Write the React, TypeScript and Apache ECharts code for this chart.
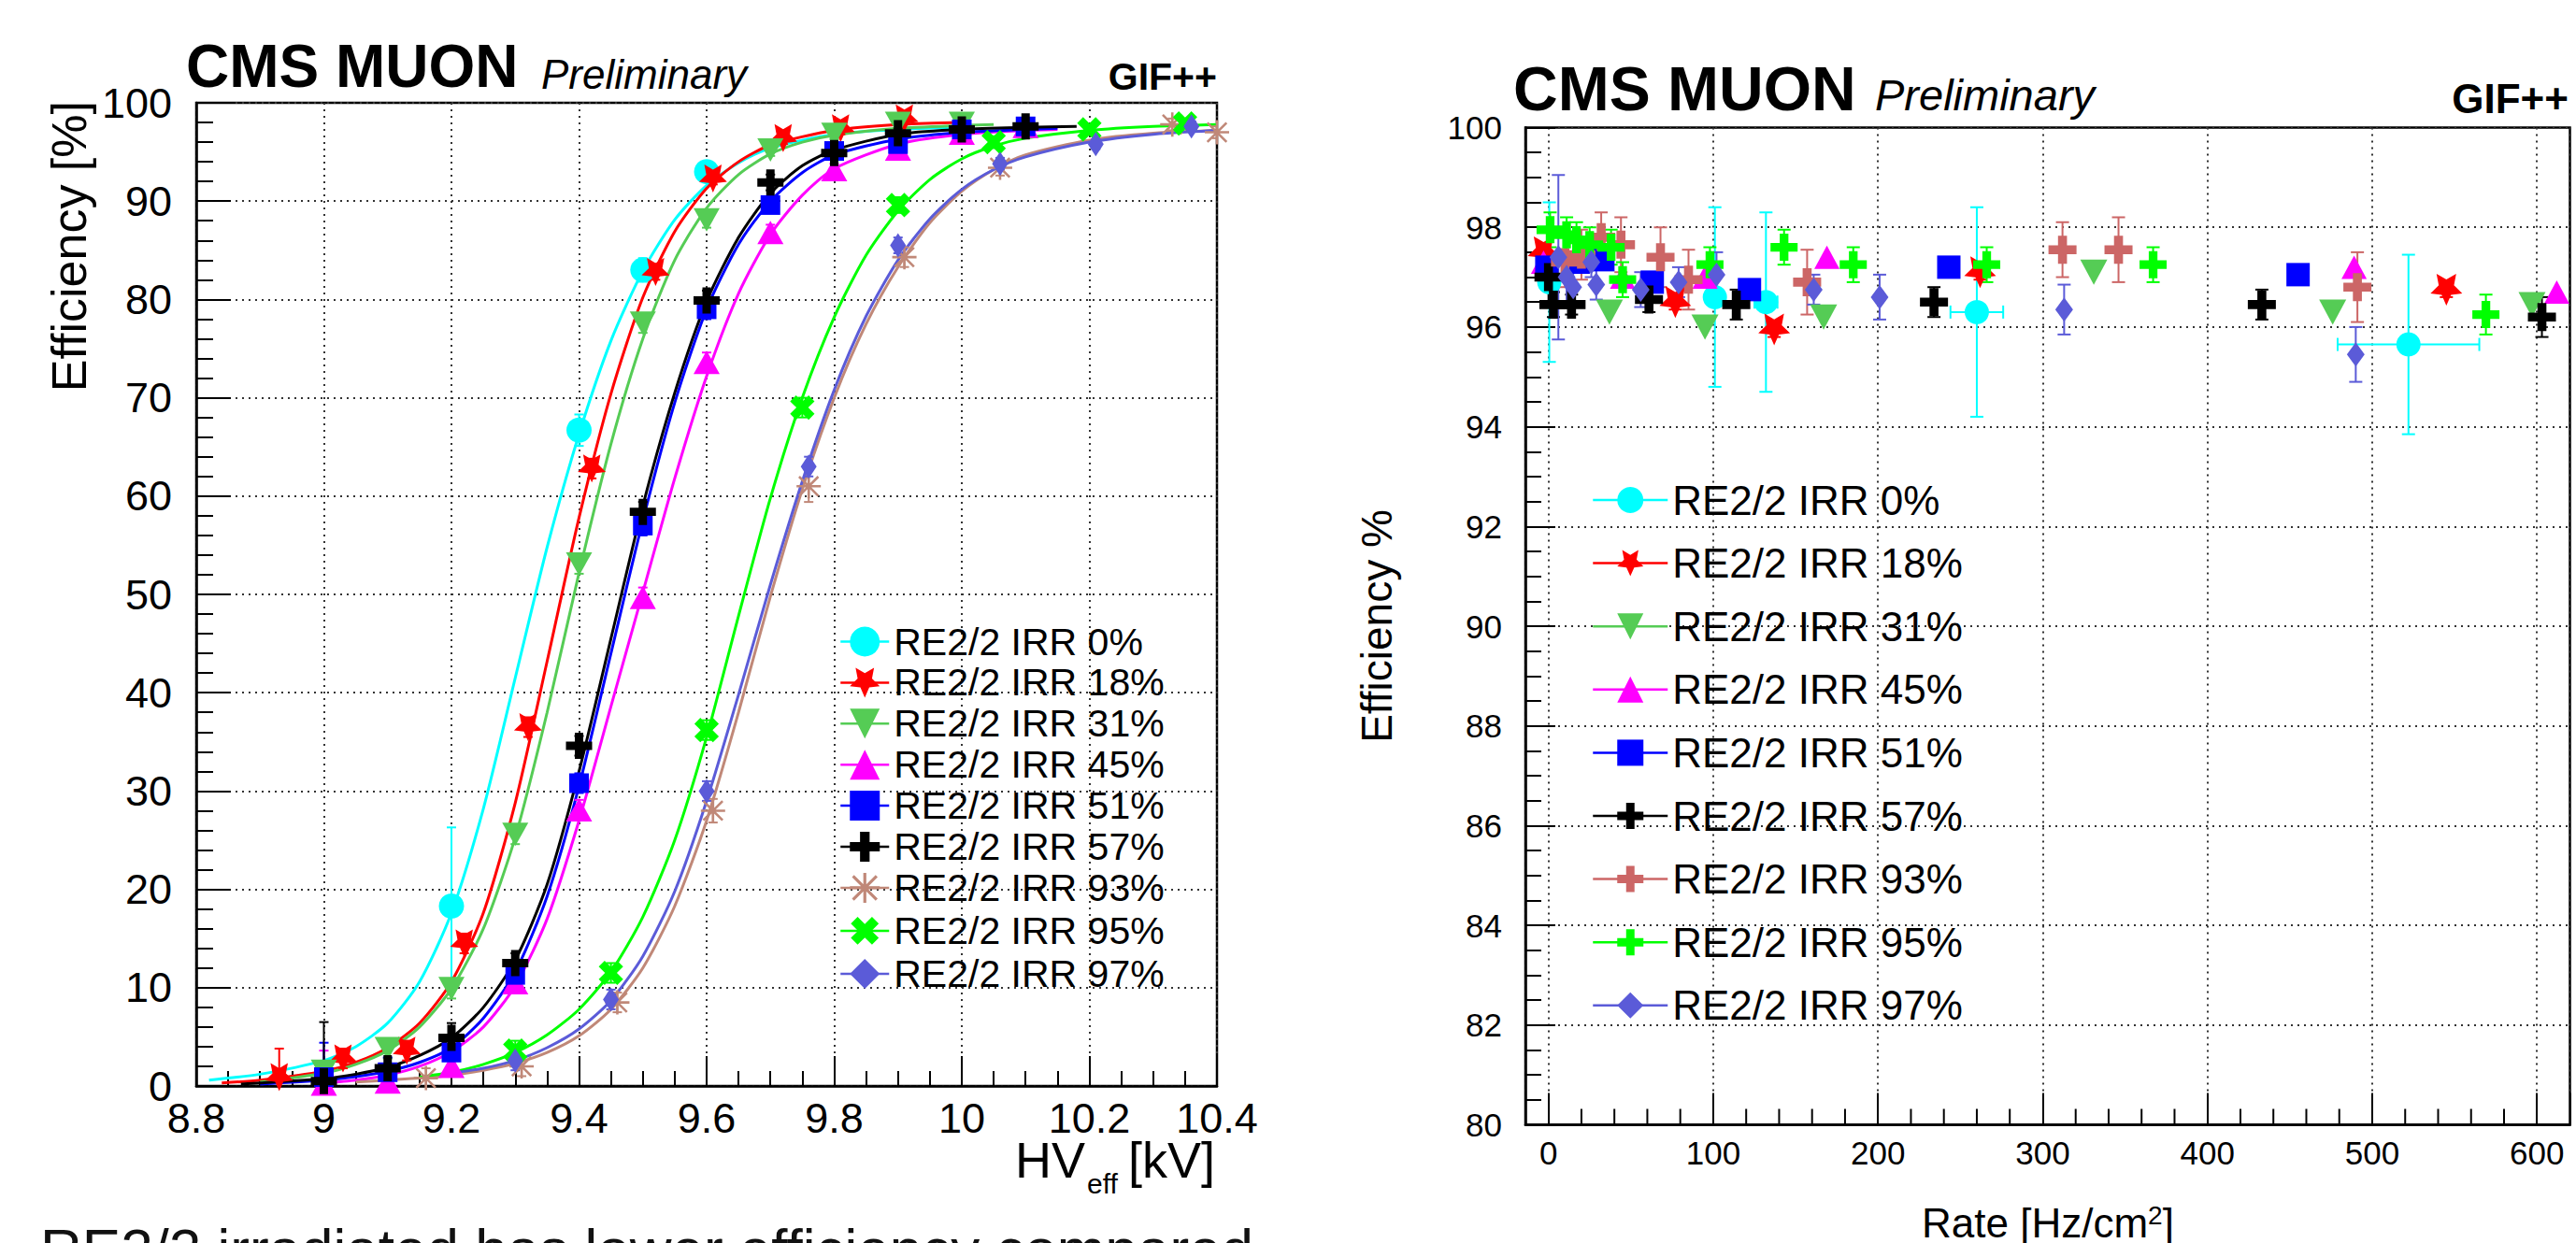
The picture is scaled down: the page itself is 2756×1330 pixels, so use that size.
import React, { useEffect, useRef } from "react";
import * as echarts from "echarts";

const FONT = '"Liberation Sans", Arial, Helvetica, sans-serif';

// ---------------- names ----------------
const irrNames = [
  "RE2/2 IRR 0%",
  "RE2/2 IRR 18%",
  "RE2/2 IRR 31%",
  "RE2/2 IRR 45%",
  "RE2/2 IRR 51%",
  "RE2/2 IRR 57%",
  "RE2/2 IRR 93%",
  "RE2/2 IRR 95%",
  "RE2/2 IRR 97%",
];

// ---------------- left panel: efficiency vs HV_eff (measured points) ----------------
const hvIrr0 = [9.2, 9.4, 9.5, 9.6];
const effIrr0 = [18.3, 66.7, 83.0, 93.0];
const errIrr0 = [8.0, 1.6, 1.2, 0.8];

const hvIrr18 = [8.93, 9.03, 9.13, 9.22, 9.32, 9.42, 9.52, 9.61, 9.72, 9.81, 9.91];
const effIrr18 = [0.9, 2.8, 3.6, 14.5, 36.5, 62.8, 82.8, 92.3, 96.4, 97.4, 98.4];
const errIrr18 = [2.9, 1.0, 1.0, 1.0, 1.0, 1.0, 0.8, 0.6, 0.6, 0.6, 0.6];

const hvIrr31 = [9.0, 9.1, 9.2, 9.3, 9.4, 9.5, 9.6, 9.7, 9.8, 9.9, 10.0];
const effIrr31 = [1.5, 3.8, 9.9, 25.6, 53.1, 77.6, 88.1, 95.2, 96.8, 97.9, 97.9];
const errIrr31 = [1.0, 1.0, 1.0, 1.0, 1.0, 1.0, 0.8, 0.6, 0.5, 0.5, 0.5];

const hvIrr45 = [9.0, 9.1, 9.2, 9.3, 9.4, 9.5, 9.6, 9.7, 9.8, 9.9, 10.0, 10.1];
const effIrr45 = [0.2, 0.4, 2.0, 10.5, 28.1, 49.7, 73.6, 86.8, 93.2, 95.3, 96.9, 97.6];
const errIrr45 = [3.4, 3.2, 1.0, 1.0, 1.0, 1.0, 1.0, 0.8, 0.6, 0.5, 0.5, 0.5];

const hvIrr51 = [9.0, 9.1, 9.2, 9.3, 9.4, 9.5, 9.6, 9.7, 9.8, 9.9, 10.0, 10.1];
const effIrr51 = [0.9, 1.4, 3.4, 11.3, 30.8, 57.0, 79.0, 89.6, 95.1, 95.8, 97.3, 97.6];
const errIrr51 = [3.5, 1.5, 1.5, 1.0, 1.0, 1.0, 1.0, 0.8, 0.6, 0.5, 0.5, 0.5];

const hvIrr57 = [9.0, 9.1, 9.2, 9.3, 9.4, 9.5, 9.6, 9.7, 9.8, 9.9, 10.0, 10.1];
const effIrr57 = [0.5, 1.8, 4.9, 12.5, 34.6, 58.4, 79.9, 91.9, 94.9, 96.9, 97.3, 97.6];
const errIrr57 = [6.0, 2.0, 1.5, 1.0, 1.0, 1.0, 1.0, 0.8, 0.6, 0.5, 0.5, 0.5];

const hvIrr93 = [9.16, 9.31, 9.46, 9.61, 9.76, 9.91, 10.06, 10.33, 10.4];
const effIrr93 = [0.8, 2.0, 8.5, 28.0, 61.0, 84.3, 93.4, 97.8, 97.0];
const errIrr93 = [1.0, 1.0, 1.0, 1.2, 1.6, 1.0, 0.8, 0.6, 0.6];

const hvIrr95 = [9.3, 9.45, 9.6, 9.75, 9.9, 10.05, 10.2, 10.35];
const effIrr95 = [3.6, 11.5, 36.2, 69.0, 89.6, 96.0, 97.3, 97.9];
const errIrr95 = [1.0, 1.0, 1.0, 1.0, 0.8, 0.6, 0.5, 0.5];

const hvIrr97 = [9.3, 9.45, 9.6, 9.76, 9.9, 10.06, 10.21, 10.36];
const effIrr97 = [2.6, 8.8, 30.0, 63.0, 85.5, 93.8, 95.8, 97.6];
const errIrr97 = [1.0, 1.0, 1.0, 1.0, 0.8, 0.6, 0.5, 0.5];

// ---------------- left panel: fitted curves ----------------
const fitHv0 = [8.82, 8.9, 9.0, 9.05, 9.1, 9.15, 9.2, 9.25, 9.3, 9.35, 9.4, 9.45, 9.5, 9.55, 9.6, 9.65, 9.7, 9.8, 9.9, 10.0];
const fitEff0 = [0.6, 1.2, 2.6, 4.0, 6.4, 10.6, 17.6, 28.2, 41.5, 54.8, 66.3, 75.8, 82.9, 88.1, 91.6, 93.9, 95.4, 96.8, 97.3, 97.5];

const fitHv18 = [8.84, 8.9, 9.0, 9.05, 9.1, 9.15, 9.2, 9.25, 9.3, 9.35, 9.4, 9.45, 9.5, 9.55, 9.6, 9.65, 9.7, 9.8, 9.9, 10.0];
const fitEff18 = [0.3, 0.6, 1.5, 2.4, 3.9, 6.4, 10.6, 17.6, 28.8, 43.2, 57.8, 70.4, 80.2, 86.9, 91.3, 94.0, 95.7, 97.2, 97.8, 98.0];

const fitHv31 = [8.9, 9.0, 9.05, 9.1, 9.15, 9.2, 9.25, 9.3, 9.35, 9.4, 9.45, 9.5, 9.55, 9.6, 9.65, 9.7, 9.75, 9.8, 9.9, 10.0, 10.05];
const fitEff31 = [0.4, 1.3, 2.2, 3.6, 6.0, 9.9, 16.0, 25.3, 38.0, 52.2, 65.3, 76.0, 84.0, 89.3, 92.7, 94.8, 96.0, 96.7, 97.4, 97.7, 97.8];

const fitHv45 = [9.0, 9.05, 9.1, 9.15, 9.2, 9.25, 9.3, 9.35, 9.4, 9.45, 9.5, 9.55, 9.6, 9.65, 9.7, 9.75, 9.8, 9.9, 10.0, 10.1, 10.15];
const fitEff45 = [0.3, 0.6, 1.1, 2.0, 3.5, 6.0, 10.2, 17.0, 27.0, 38.6, 50.2, 61.8, 72.2, 80.6, 86.6, 90.6, 93.3, 95.8, 96.8, 97.2, 97.3];

const fitHv51 = [8.9, 9.0, 9.05, 9.1, 9.15, 9.2, 9.25, 9.3, 9.35, 9.4, 9.45, 9.5, 9.55, 9.6, 9.65, 9.7, 9.75, 9.8, 9.9, 10.0, 10.1, 10.15];
const fitEff51 = [0.2, 0.6, 0.95, 1.5, 2.4, 3.9, 6.9, 11.6, 19.3, 30.5, 44.0, 57.5, 69.5, 79.0, 85.6, 90.0, 92.9, 94.7, 96.3, 97.0, 97.3, 97.4];

const fitHv57 = [8.87, 8.9, 9.0, 9.05, 9.1, 9.15, 9.2, 9.25, 9.3, 9.35, 9.4, 9.45, 9.5, 9.55, 9.6, 9.65, 9.7, 9.75, 9.8, 9.9, 10.0, 10.1, 10.18];
const fitEff57 = [0.2, 0.3, 0.75, 1.2, 1.9, 3.1, 4.9, 8.0, 12.8, 20.5, 32.0, 45.5, 59.0, 70.5, 79.8, 86.3, 90.8, 93.6, 95.2, 96.8, 97.3, 97.5, 97.6];

const fitHv93 = [9.05, 9.1, 9.15, 9.2, 9.25, 9.3, 9.35, 9.4, 9.45, 9.5, 9.55, 9.6, 9.65, 9.7, 9.75, 9.8, 9.85, 9.9, 9.95, 10.0, 10.05, 10.1, 10.2, 10.3, 10.4];
const fitEff93 = [0.4, 0.6, 0.8, 1.1, 1.6, 2.3, 3.4, 5.1, 7.8, 12.0, 18.3, 27.0, 38.0, 49.8, 60.7, 70.0, 77.5, 83.3, 87.8, 91.0, 93.2, 94.7, 96.2, 96.9, 97.2];

const fitHv95 = [9.15, 9.2, 9.25, 9.3, 9.35, 9.4, 9.45, 9.5, 9.55, 9.6, 9.65, 9.7, 9.75, 9.8, 9.85, 9.9, 9.95, 10.0, 10.05, 10.1, 10.2, 10.3, 10.4];
const fitEff95 = [0.9, 1.4, 2.2, 3.4, 5.2, 7.8, 11.6, 17.2, 25.0, 35.5, 47.8, 59.8, 70.0, 78.2, 84.5, 89.0, 92.2, 94.3, 95.6, 96.4, 97.2, 97.6, 97.8];

const fitHv97 = [9.2, 9.25, 9.3, 9.35, 9.4, 9.45, 9.5, 9.55, 9.6, 9.65, 9.7, 9.75, 9.8, 9.85, 9.9, 9.95, 10.0, 10.05, 10.1, 10.2, 10.3, 10.4];
const fitEff97 = [1.3, 1.8, 2.6, 3.9, 5.8, 8.7, 13.2, 19.8, 29.0, 39.8, 51.0, 61.5, 70.8, 78.3, 84.0, 88.2, 91.2, 93.2, 94.5, 96.0, 96.8, 97.2];

// ---------------- right panel: efficiency vs rate ----------------
const rateIrr0 = [0.5, 101, 132, 260, 522];
const rEffIrr0 = [96.9, 96.6, 96.5, 96.3, 95.65];
const rErrIrr0 = [1.6, 1.8, 1.8, 2.1, 1.8];
const rXErrIrr0 = [0, 0, 7, 16, 43];

const rateIrr18 = [-3, 77, 137, 262, 545];
const rEffIrr18 = [97.5, 96.5, 95.95, 97.1, 96.75];
const rErrIrr18 = [0.15, 0.15, 0.15, 0.15, 0.15];

const rateIrr31 = [37, 95, 167, 331, 476, 597];
const rEffIrr31 = [96.3, 96.0, 96.2, 97.1, 96.3, 96.45];
const rErrIrr31 = [0, 0, 0, 0, 0, 0];

const rateIrr45 = [-3, 45, 95, 169, 489, 612];
const rEffIrr45 = [97.3, 97.0, 97.0, 97.4, 97.2, 96.7];
const rErrIrr45 = [0, 0, 0, 0, 0, 0];

const rateIrr51 = [-1, 18, 33, 63, 122, 243, 455];
const rEffIrr51 = [97.2, 97.3, 97.35, 96.9, 96.75, 97.2, 97.05];
const rErrIrr51 = [0, 0, 0, 0, 0, 0, 0];

const rateIrr57 = [0, 3, 14, 61, 114, 234, 433, 603];
const rEffIrr57 = [97.0, 96.45, 96.45, 96.55, 96.45, 96.5, 96.45, 96.2];
const rErrIrr57 = [0.5, 0.25, 0.2, 0.25, 0.3, 0.3, 0.3, 0.4];

const rateIrr93 = [10, 20, 32, 44, 68, 85, 157, 312, 346, 491];
const rEffIrr93 = [97.3, 97.45, 97.8, 97.65, 97.4, 96.95, 96.9, 97.55, 97.55, 96.8];
const rErrIrr93 = [0.5, 0.5, 0.5, 0.55, 0.6, 0.6, 0.65, 0.55, 0.65, 0.7];

const rateIrr95 = [1, 11, 17, 25, 38, 45, 98, 143, 185, 266, 367, 569];
const rEffIrr95 = [97.95, 97.85, 97.75, 97.65, 97.6, 96.95, 97.25, 97.6, 97.25, 97.25, 97.25, 96.25];
const rErrIrr95 = [0.35, 0.35, 0.35, 0.35, 0.35, 0.35, 0.35, 0.35, 0.35, 0.35, 0.35, 0.4];

const rateIrr97 = [6, 11, 15, 26, 29, 56, 79, 102, 161, 201, 313, 490];
const rEffIrr97 = [97.4, 97.0, 96.8, 97.3, 96.85, 96.75, 96.9, 97.05, 96.75, 96.6, 96.35, 95.45];
const rErrIrr97 = [1.65, 0.5, 0.4, 0.3, 0.3, 0.35, 0.3, 0.45, 0.3, 0.45, 0.5, 0.55];

// minor tick positions of the rate axis
const rateMinorTicks = [20, 40, 60, 80, 120, 140, 160, 180, 220, 240, 260, 280, 320, 340, 360, 380, 420, 440, 460, 480, 520, 540, 560, 580];

// ---------------- styling ----------------
const leftColors = ["#00ffff", "#ff0000", "#55cc55", "#ff00ff", "#0000ff", "#000000", "#c08878", "#00ff00", "#5b5bd8"];
const rightColors = ["#00ffff", "#ff0000", "#55cc55", "#ff00ff", "#0000ff", "#000000", "#cc6666", "#00ff00", "#5b5bd8"];

const STAR = "path://M50,2L64.1,32.6L97.55,36.55L72.8,59.4L79.39,92.45L50,76L20.61,92.45L27.2,59.4L2.45,36.55L35.9,32.6Z";
const PLUS = "path://M34,0H66V34H100V66H66V100H34V66H0V34H34Z";
const ASTER = "path://M45,0H55V100H45Z M0,45H100V55H0Z M7,14L14,7L93,86L86,93Z M86,7L93,14L14,93L7,86Z";
const DIAMOND = "path://M50,0L80,50L50,100L20,50Z";

const leftSymbols: any[] = [
  { symbol: "circle", size: 27, rotate: 0 },
  { symbol: STAR, size: 30, rotate: 180 },
  { symbol: "triangle", size: [28, 25], rotate: 180 },
  { symbol: "triangle", size: [28, 25], rotate: 0 },
  { symbol: "rect", size: 21, rotate: 0 },
  { symbol: PLUS, size: 28, rotate: 0 },
  { symbol: ASTER, size: 26, rotate: 0 },
  { symbol: PLUS, size: 28, rotate: 45 },
  { symbol: DIAMOND, size: [17, 26], rotate: 0 },
];
const rightSymbols: any[] = [
  { symbol: "circle", size: 26, rotate: 0 },
  { symbol: STAR, size: 34, rotate: 180 },
  { symbol: "triangle", size: [29, 27], rotate: 180 },
  { symbol: "triangle", size: [27, 25], rotate: 0 },
  { symbol: "rect", size: 25, rotate: 0 },
  { symbol: PLUS, size: 30, rotate: 0 },
  { symbol: PLUS, size: 30, rotate: 0 },
  { symbol: PLUS, size: 29, rotate: 0 },
  { symbol: DIAMOND, size: [19, 26], rotate: 0 },
];

const leftPoints = [
  [hvIrr0, effIrr0, errIrr0],
  [hvIrr18, effIrr18, errIrr18],
  [hvIrr31, effIrr31, errIrr31],
  [hvIrr45, effIrr45, errIrr45],
  [hvIrr51, effIrr51, errIrr51],
  [hvIrr57, effIrr57, errIrr57],
  [hvIrr93, effIrr93, errIrr93],
  [hvIrr95, effIrr95, errIrr95],
  [hvIrr97, effIrr97, errIrr97],
];
const leftFits = [
  [fitHv0, fitEff0],
  [fitHv18, fitEff18],
  [fitHv31, fitEff31],
  [fitHv45, fitEff45],
  [fitHv51, fitEff51],
  [fitHv57, fitEff57],
  [fitHv93, fitEff93],
  [fitHv95, fitEff95],
  [fitHv97, fitEff97],
];
const rightPoints: any[] = [
  [rateIrr0, rEffIrr0, rErrIrr0, rXErrIrr0],
  [rateIrr18, rEffIrr18, rErrIrr18, null],
  [rateIrr31, rEffIrr31, rErrIrr31, null],
  [rateIrr45, rEffIrr45, rErrIrr45, null],
  [rateIrr51, rEffIrr51, rErrIrr51, null],
  [rateIrr57, rEffIrr57, rErrIrr57, null],
  [rateIrr93, rEffIrr93, rErrIrr93, null],
  [rateIrr95, rEffIrr95, rErrIrr95, null],
  [rateIrr97, rEffIrr97, rErrIrr97, null],
];

const RIGHT_PREFIX = "R ";
const RATE_Y_MIN = 80;

function zip(xs: number[], ys: number[]) {
  return xs.map((x, i) => [x, ys[i]]);
}

function errorBars(axis: number, xs: number[], ys: number[], eys: number[], exs: number[] | null, color: string, cap: number, width: number) {
  const data = xs.map((x, i) => [x, ys[i], eys[i], exs ? exs[i] : 0]);
  return {
    type: "custom",
    name: "err",
    xAxisIndex: axis,
    yAxisIndex: axis,
    z: 3,
    silent: true,
    clip: true,
    encode: { x: 0, y: 1 },
    data,
    renderItem: (_p: any, api: any) => {
      const x = api.value(0);
      const y = api.value(1);
      const ey = api.value(2);
      const ex = api.value(3);
      const st = { stroke: color, lineWidth: width };
      const children: any[] = [];
      if (ey > 0) {
        const lo = api.coord([x, y - ey]);
        const hi = api.coord([x, y + ey]);
        children.push({ type: "line", shape: { x1: lo[0], y1: lo[1], x2: hi[0], y2: hi[1] }, style: st });
        children.push({ type: "line", shape: { x1: lo[0] - cap / 2, y1: lo[1], x2: lo[0] + cap / 2, y2: lo[1] }, style: st });
        children.push({ type: "line", shape: { x1: hi[0] - cap / 2, y1: hi[1], x2: hi[0] + cap / 2, y2: hi[1] }, style: st });
      }
      if (ex > 0) {
        const l = api.coord([x - ex, y]);
        const r = api.coord([x + ex, y]);
        children.push({ type: "line", shape: { x1: l[0], y1: l[1], x2: r[0], y2: r[1] }, style: st });
        children.push({ type: "line", shape: { x1: l[0], y1: l[1] - cap / 2, x2: l[0], y2: l[1] + cap / 2 }, style: st });
        children.push({ type: "line", shape: { x1: r[0], y1: r[1] - cap / 2, x2: r[0], y2: r[1] + cap / 2 }, style: st });
      }
      return { type: "group", children };
    },
  };
}

function txt(text: string, x: number, y: number, size: number, o: any = {}) {
  return {
    type: "text",
    x,
    y,
    rotation: o.rotation || 0,
    z: 20,
    silent: true,
    style: {
      text,
      fill: o.color || "#000",
      fontFamily: FONT,
      fontSize: size,
      fontWeight: o.weight || "normal",
      fontStyle: o.italic ? "italic" : "normal",
      textAlign: o.align || "left",
      verticalAlign: "middle",
      textVerticalAlign: "middle",
      rich: o.rich,
    },
  };
}

const dotted = { color: "#333", width: 2, type: [2, 5] as any };

function buildOption() {
  const series: any[] = [];

  // fitted curves
  leftFits.forEach(([xs, ys], i) => {
    series.push({
      type: "line",
      name: "fit " + irrNames[i],
      xAxisIndex: 0,
      yAxisIndex: 0,
      data: zip(xs, ys),
      showSymbol: false,
      symbol: "none",
      smooth: 0.25,
      lineStyle: { color: leftColors[i], width: 3 },
      itemStyle: { color: leftColors[i] },
      z: 2,
      silent: true,
    });
  });
  // left error bars
  leftPoints.forEach(([xs, ys, es], i) => {
    series.push(errorBars(0, xs, ys, es, null, leftColors[i], 10, 2));
  });
  // left markers
  leftPoints.forEach(([xs, ys], i) => {
    const s = leftSymbols[i];
    series.push({
      type: "line",
      name: irrNames[i],
      xAxisIndex: 0,
      yAxisIndex: 0,
      data: zip(xs, ys),
      symbol: s.symbol,
      symbolSize: s.size,
      symbolRotate: s.rotate,
      showSymbol: true,
      showAllSymbol: true,
      lineStyle: { color: leftColors[i], width: 0 },
      itemStyle: { color: leftColors[i] },
      z: 4,
      silent: true,
    });
  });

  // right error bars
  rightPoints.forEach(([xs, ys, es, xes], i) => {
    series.push(errorBars(1, xs, ys, es, xes, rightColors[i], 14, 2));
  });
  // right markers
  rightPoints.forEach(([xs, ys], i) => {
    const s = rightSymbols[i];
    series.push({
      type: "line",
      name: RIGHT_PREFIX + irrNames[i],
      xAxisIndex: 1,
      yAxisIndex: 1,
      data: zip(xs, ys),
      symbol: s.symbol,
      symbolSize: s.size,
      symbolRotate: s.rotate,
      showSymbol: true,
      showAllSymbol: true,
      lineStyle: { color: rightColors[i], width: 0 },
      itemStyle: { color: rightColors[i] },
      z: 4,
      silent: true,
    });
  });
  // right minor ticks on the rate axis
  series.push({
    type: "custom",
    name: "minor ticks",
    xAxisIndex: 1,
    yAxisIndex: 1,
    silent: true,
    z: 5,
    encode: { x: 0, y: 1 },
    data: rateMinorTicks.map((v) => [v, RATE_Y_MIN]),
    renderItem: (_p: any, api: any) => {
      const c = api.coord([api.value(0), api.value(1)]);
      return { type: "line", shape: { x1: c[0], y1: c[1], x2: c[0], y2: c[1] - 17 }, style: { stroke: "#000", lineWidth: 2 } };
    },
  });

  const labelBase = { color: "#000", fontFamily: FONT };

  return {
    animation: false,
    backgroundColor: "#fff",
    textStyle: { fontFamily: FONT },
    grid: [
      { left: 210, top: 110, width: 1092, height: 1052, show: true, borderColor: "#000", borderWidth: 2.5, backgroundColor: "transparent", containLabel: false, outerBoundsMode: "none" },
      { left: 1632, top: 136.5, width: 1117.5, height: 1067, show: true, borderColor: "#000", borderWidth: 2.5, backgroundColor: "transparent", containLabel: false, outerBoundsMode: "none" },
    ],
    xAxis: [
      {
        type: "value",
        gridIndex: 0,
        min: 8.8,
        max: 10.4,
        interval: 0.2,
        axisLine: { show: true, onZero: false, lineStyle: { color: "#000", width: 2.5 } },
        axisTick: { show: true, inside: true, length: 32, lineStyle: { color: "#000", width: 2 } },
        minorTick: { show: true, splitNumber: 4, length: 16, lineStyle: { color: "#000", width: 2 } },
        splitLine: { show: true, lineStyle: dotted },
        axisLabel: {
          ...labelBase,
          fontSize: 45,
          margin: 12,
          showMinLabel: true,
          showMaxLabel: true,
          formatter: (v: number) => String(Math.round(v * 10) / 10),
        },
      },
      {
        type: "value",
        gridIndex: 1,
        min: -14,
        max: 620,
        splitNumber: 6,
        minInterval: 100,
        maxInterval: 100,
        axisLine: { show: true, onZero: false, lineStyle: { color: "#000", width: 2.5 } },
        axisTick: { show: true, inside: true, length: 34, lineStyle: { color: "#000", width: 2 } },
        minorTick: { show: false },
        splitLine: { show: true, lineStyle: dotted },
        axisLabel: {
          ...labelBase,
          fontSize: 35,
          margin: 12,
          showMinLabel: true,
          showMaxLabel: true,
          formatter: (v: number) => (Math.abs(v % 100) < 1e-6 ? String(v) : ""),
        },
      },
    ],
    yAxis: [
      {
        type: "value",
        gridIndex: 0,
        min: 0,
        max: 100,
        interval: 10,
        axisLine: { show: true, onZero: false, lineStyle: { color: "#000", width: 2.5 } },
        axisTick: { show: true, inside: true, length: 37, lineStyle: { color: "#000", width: 2 } },
        minorTick: { show: true, splitNumber: 5, length: 18, lineStyle: { color: "#000", width: 2 } },
        splitLine: { show: true, lineStyle: dotted },
        axisLabel: { ...labelBase, fontSize: 45, margin: 26, showMinLabel: true, showMaxLabel: true },
      },
      {
        type: "value",
        gridIndex: 1,
        min: 80,
        max: 100,
        interval: 2,
        axisLine: { show: true, onZero: false, lineStyle: { color: "#000", width: 2.5 } },
        axisTick: { show: true, inside: true, length: 32, lineStyle: { color: "#000", width: 2 } },
        minorTick: { show: true, splitNumber: 4, length: 17, lineStyle: { color: "#000", width: 2 } },
        splitLine: { show: true, lineStyle: dotted },
        axisLabel: { ...labelBase, fontSize: 35, margin: 25, showMinLabel: true, showMaxLabel: true },
      },
    ],
    legend: [
      {
        orient: "vertical",
        left: 898,
        top: 666,
        padding: 0,
        itemWidth: 52,
        itemHeight: 40,
        itemGap: 2.9,
        selectedMode: false,
        data: irrNames,
        lineStyle: { width: 2.5 },
        textStyle: { color: "#000", fontFamily: FONT, fontSize: 41, lineHeight: 40 },
      },
      {
        orient: "vertical",
        left: 1703,
        top: 513,
        padding: 0,
        itemWidth: 80,
        itemHeight: 35,
        itemGap: 23.6,
        selectedMode: false,
        data: irrNames.map((n) => RIGHT_PREFIX + n),
        formatter: (n: string) => n.slice(RIGHT_PREFIX.length),
        lineStyle: { width: 2.5 },
        textStyle: { color: "#000", fontFamily: FONT, fontSize: 44, lineHeight: 35 },
      },
    ],
    graphic: [
      // left panel header
      txt("CMS MUON", 199, 71, 64, { weight: "bold" }),
      txt("Preliminary", 579, 79, 44, { italic: true }),
      txt("GIF++", 1302, 82, 41, { weight: "bold", align: "right" }),
      // right panel header
      txt("CMS MUON", 1619, 95, 66, { weight: "bold" }),
      txt("Preliminary", 2006, 101, 47, { italic: true }),
      txt("GIF++", 2748, 105, 44, { weight: "bold", align: "right" }),
      // axis titles
      txt("Efficiency [%]", 74, 108, 52, { rotation: Math.PI / 2, align: "right" }),
      txt("Efficiency %", 1473, 670, 46, { rotation: Math.PI / 2, align: "center" }),
      txt("HV", 1086, 1241, 54),
      txt("eff", 1163, 1266, 30),
      txt("[kV]", 1207, 1241, 54),
      txt("Rate [Hz/cm{sup|2}]", 2191, 1308, 44, {
        align: "center",
        rich: { sup: { fontSize: 28, verticalAlign: "top", lineHeight: 22, fontFamily: FONT } },
      }),
      // caption below the left panel (cut by the picture's lower edge)
      txt("RE2/2 irradiated has lower efficiency compared", 43, 1336, 62, { color: "#111" }),
    ],
    series,
  };
}

export default function App() {
  const ref = useRef<HTMLDivElement>(null);
  useEffect(() => {
    if (!ref.current) return;
    const chart = echarts.init(ref.current, null, { renderer: "svg" });
    chart.setOption(buildOption() as any);
    return () => chart.dispose();
  }, []);
  return (
    <div
      ref={ref}
      style={{ position: "fixed", left: 0, top: 0, width: 2756, height: 1330, background: "#fff" }}
    />
  );
}
